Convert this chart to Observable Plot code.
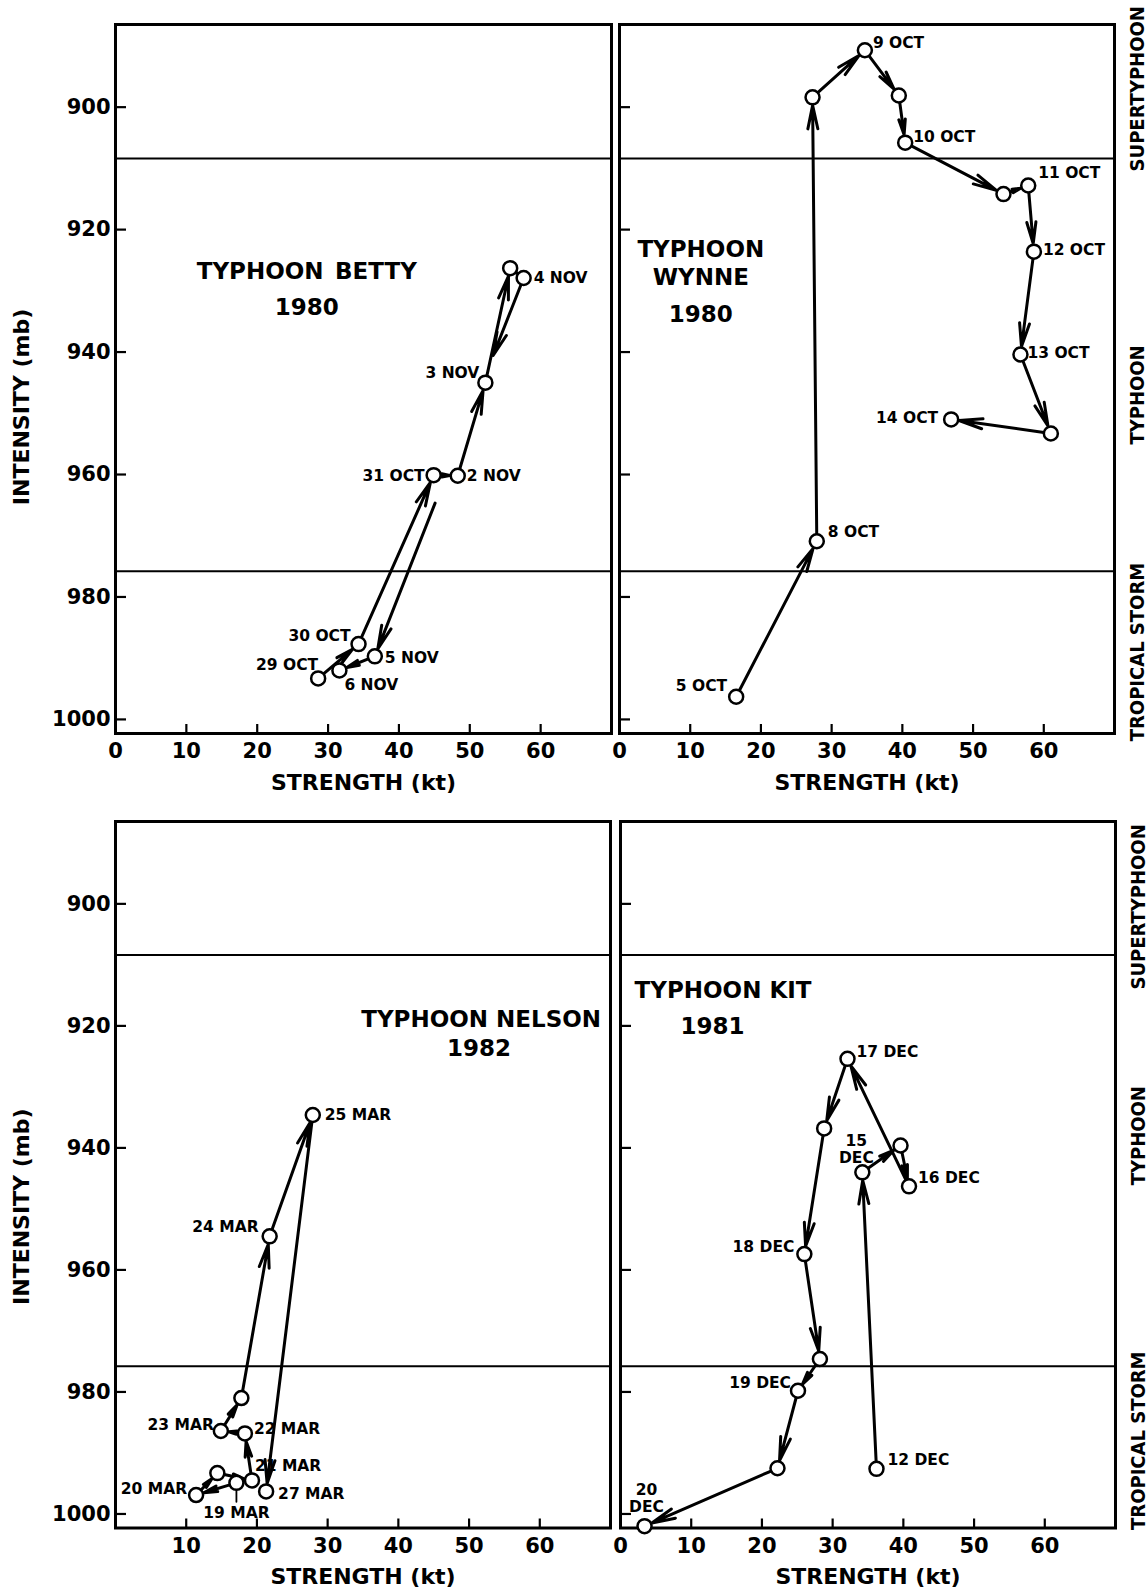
<!DOCTYPE html>
<html><head><meta charset="utf-8">
<script src="https://cdn.jsdelivr.net/npm/d3@7"></script>
<script src="https://cdn.jsdelivr.net/npm/@observablehq/plot@0.6"></script>
<style>
html,body{margin:0;padding:0;background:#fff;}
#chart{position:relative;width:1148px;height:1591px;background:#fff;}
.panel{position:absolute;}
.panel svg{overflow:visible;}
</style></head><body><div id="chart"></div>
<script>
// ---------------- data ----------------
const strengthTicks = [0, 10, 20, 30, 40, 50, 60];
const intensityTicks = [900, 920, 940, 960, 980, 1000];
const categoryBounds = [908.4, 975.8];
const categoryNames = ["SUPERTYPHOON", "TYPHOON", "TROPICAL STORM"];
const categoryLabelAtTop = [897, 947, 989];
const categoryLabelAtBottom = [900.5, 938, 988];

const bettyStrength  = [28.6, 34.3, 44.9, 48.3, 52.2, 55.7, 57.6, 36.6, 31.6];
const bettyIntensity = [993.3, 987.7, 960.1, 960.2, 945.0, 926.3, 927.9, 989.7, 992.0];
const bettyDates     = ["29 OCT", "30 OCT", "31 OCT", "2 NOV", "3 NOV", "", "4 NOV", "5 NOV", "6 NOV"];
const bettyTitle     = ["TYPHOON\u2002BETTY", "1980"];
const bettyTitleX    = [27.0, 27.0];
const bettyTitleY    = [926.9, 932.8];

const wynneStrength  = [16.5, 27.9, 27.3, 34.7, 39.5, 40.4, 54.3, 57.8, 58.6, 56.7, 61.0, 46.9];
const wynneIntensity = [996.3, 970.9, 898.4, 890.7, 898.1, 905.8, 914.2, 912.8, 923.6, 940.4, 953.3, 951.0];
const wynneDates     = ["5 OCT", "8 OCT", "", "9 OCT", "", "10 OCT", "", "11 OCT", "12 OCT", "13 OCT", "", "14 OCT"];
const wynneTitle     = ["TYPHOON", "WYNNE", "1980"];
const wynneTitleX    = [11.5, 11.5, 11.5];
const wynneTitleY    = [923.3, 927.9, 933.9];

const nelsonStrength  = [17.1, 11.4, 14.4, 19.3, 18.3, 14.9, 17.8, 21.8, 27.9, 21.3];
const nelsonIntensity = [994.9, 996.9, 993.3, 994.5, 986.8, 986.4, 981.0, 954.5, 934.6, 996.3];
const nelsonDates     = ["19 MAR", "20 MAR", "", "21 MAR", "22 MAR", "23 MAR", "", "24 MAR", "25 MAR", "27 MAR"];
const nelsonTitle     = ["TYPHOON NELSON", "1982"];
const nelsonTitleX    = [51.7, 51.4];
const nelsonTitleY    = [919.0, 923.7];

const kitStrength  = [36.2, 34.2, 39.6, 40.8, 32.1, 28.8, 26.0, 28.2, 25.1, 22.2, 3.4];
const kitIntensity = [992.6, 944.0, 939.6, 946.3, 925.4, 936.8, 957.4, 974.6, 979.8, 992.5, 1002.0];
const kitDates     = ["12 DEC", "15\nDEC", "", "16 DEC", "17 DEC", "", "18 DEC", "", "19 DEC", "", "20\nDEC"];
const kitTitle     = ["TYPHOON KIT", "1981"];
const kitTitleX    = [14.5, 13.0];
const kitTitleY    = [914.3, 920.2];

// ---------------- styling config (label placement in px) ----------------
const labelPlacement = {
  "29 OCT": ["end", 0, -14], "30 OCT": ["end", -8, -9], "31 OCT": ["end", -9, 0],
  "2 NOV": ["start", 9, 0], "3 NOV": ["end", -6, -10], "4 NOV": ["start", 10, 0],
  "5 NOV": ["start", 10, 1], "6 NOV": ["start", 5, 14],
  "9 OCT": ["start", 8, -8], "10 OCT": ["start", 8, -6], "11 OCT": ["start", 10, -13],
  "12 OCT": ["start", 9, -2], "13 OCT": ["start", 7, -2], "14 OCT": ["end", -13, -2],
  "8 OCT": ["start", 11, -10], "5 OCT": ["end", -9, -11],
  "25 MAR": ["start", 12, 0], "24 MAR": ["end", -11, -10], "23 MAR": ["end", -7, -6],
  "22 MAR": ["start", 9, -5], "21 MAR": ["start", 3, -15], "20 MAR": ["end", -9, -7],
  "19 MAR": ["middle", 0, 30], "27 MAR": ["start", 12, 2],
  "17 DEC": ["start", 9, -7], "16 DEC": ["start", 9, -9], "15\nDEC": ["middle", -6, -23],
  "18 DEC": ["end", -10, -8], "19 DEC": ["end", -7, -8], "12 DEC": ["start", 11, -9],
  "20\nDEC": ["middle", 2, -28]
};

const FONT = "DejaVu Sans";

function toPoints(s, i, d) { return s.map((x, k) => ({x, y: i[k], label: d[k]})); }
function toLines(t, xs, ys) { return t.map((text, k) => ({text, x: xs[k], y: ys[k]})); }

function panelPlot(cfg) {
  const points = cfg.points;
  const segs = [];
  for (let k = 0; k < points.length - 1; k++) {
    const a = points[k], b = points[k + 1];
    const br = (cfg.breaks || []).find(g => g.seg === k);
    if (br) {
      const lerp = t => ({x: a.x + (b.x - a.x) * t, y: a.y + (b.y - a.y) * t});
      const p0 = lerp(br.t0), p1 = lerp(br.t1);
      segs.push({kind: "toGap", x1: a.x, y1: a.y, x2: p0.x, y2: p0.y});
      segs.push({kind: "fromGap", x1: p1.x, y1: p1.y, x2: b.x, y2: b.y});
    } else segs.push({kind: "full", x1: a.x, y1: a.y, x2: b.x, y2: b.y});
  }
  const arrowStyle = {x1: "x1", y1: "y1", x2: "x2", y2: "y2", stroke: "black", strokeWidth: 3, headLength: 12, headAngle: 24};
  const marks = [
    Plot.ruleY(categoryBounds, {stroke: "black", strokeWidth: 2}),
    Plot.frame({stroke: "black", strokeWidth: 3}),
    Plot.axisX(strengthTicks.filter(t => t > 0), {tickSize: -9, tickFormat: () => "", label: null, strokeWidth: 2.2}),
    Plot.axisY(intensityTicks, {tickSize: -11, tickFormat: () => "", label: null, strokeWidth: 2.2}),
    Plot.axisX(cfg.xLabels, {tickSize: 0, tickPadding: 10, label: null, fontSize: 21, fontWeight: "bold", tickFormat: d => String(d)}),
    Plot.text(["STRENGTH (kt)"], {frameAnchor: "bottom", dy: 49, lineAnchor: "middle", fontSize: 22, fontWeight: "bold"}),
    Plot.arrow(segs.filter(s => s.kind === "full"), {...arrowStyle, insetStart: 7, insetEnd: 8}),
    Plot.arrow(segs.filter(s => s.kind === "toGap"), {...arrowStyle, insetStart: 7, insetEnd: 0}),
    Plot.arrow(segs.filter(s => s.kind === "fromGap"), {...arrowStyle, insetStart: 0, insetEnd: 8}),
    Plot.dot(points, {x: "x", y: "y", r: 7, fill: "white", stroke: "black", strokeWidth: 2.5}),
    Plot.text(cfg.title, {x: "x", y: "y", text: "text", fontSize: 23, fontWeight: "bold", textAnchor: "middle", lineAnchor: "middle"})
  ];
  for (const p of points.filter(p => p.label)) {
    const [anchor, dx, dy] = labelPlacement[p.label];
    marks.push(Plot.text([p], {x: "x", y: "y", text: "label", textAnchor: anchor, dx, dy,
      lineAnchor: "middle", lineHeight: 1.1, fontSize: 15.5, fontWeight: "bold"}));
  }
  if (cfg.leader) {
    try {
      marks.push(Plot.vector(points.filter(p => p.label === cfg.leader), {x: "x", y: "y", length: 11, rotate: 180,
        anchor: "start", dy: 8, strokeWidth: 1.8, stroke: "black",
        shape: {draw(ctx, l) { ctx.moveTo(0, 0); ctx.lineTo(0, -l); }}}));
    } catch (e) {}
  }
  if (cfg.leftLabels) {
    marks.push(Plot.axisY(intensityTicks, {tickSize: 0, tickPadding: 5, label: null, fontSize: 21, fontWeight: "bold", tickFormat: d => String(d)}));
    marks.push(Plot.text(["INTENSITY (mb)"], {frameAnchor: "left", dx: -94, dy: cfg.yLabelDy, rotate: -90,
      textAnchor: "middle", lineAnchor: "middle", fontSize: 22, fontWeight: "bold"}));
  }
  if (cfg.bandAt) {
    const bands = categoryNames.map((label, k) => ({label, y: cfg.bandAt[k]}));
    marks.push(Plot.text(bands, {y: "y", text: "label", frameAnchor: "right", dx: 23, rotate: -90,
      textAnchor: "middle", lineAnchor: "middle", fontSize: 20, fontWeight: "bold",
      fontFamily: "DejaVu Sans Condensed, DejaVu Sans"}));
  }
  return Plot.plot({
    width: cfg.width, height: cfg.height,
    marginLeft: cfg.mL, marginRight: cfg.mR, marginTop: cfg.mT, marginBottom: cfg.mB,
    x: {domain: [0, 70]},
    y: {domain: [886.5, 1002.3], reverse: true},
    style: {fontFamily: FONT, fontWeight: "bold", color: "black", background: "transparent", overflow: "visible"},
    marks
  });
}

const panels = [
  {left: 0, top: 0, width: 614, height: 800, mL: 115, mR: 3, mT: 24, mB: 67,
   points: toPoints(bettyStrength, bettyIntensity, bettyDates),
   breaks: [{seg: 6, t0: 0.205, t1: 0.595}],
   title: toLines(bettyTitle, bettyTitleX, bettyTitleY),
   xLabels: strengthTicks, leftLabels: true, yLabelDy: 28},
  {left: 614, top: 0, width: 534, height: 800, mL: 5, mR: 34, mT: 24, mB: 67,
   points: toPoints(wynneStrength, wynneIntensity, wynneDates),
   title: toLines(wynneTitle, wynneTitleX, wynneTitleY),
   xLabels: strengthTicks, bandAt: categoryLabelAtTop},
  {left: 0, top: 800, width: 614, height: 791, mL: 115, mR: 4, mT: 21, mB: 63.5,
   points: toPoints(nelsonStrength, nelsonIntensity, nelsonDates),
   title: toLines(nelsonTitle, nelsonTitleX, nelsonTitleY),
   xLabels: strengthTicks.filter(t => t > 0), leftLabels: true, yLabelDy: 32, leader: "19 MAR"},
  {left: 614, top: 800, width: 534, height: 791, mL: 6, mR: 33, mT: 21, mB: 63.5,
   points: toPoints(kitStrength, kitIntensity, kitDates),
   title: toLines(kitTitle, kitTitleX, kitTitleY),
   xLabels: strengthTicks, bandAt: categoryLabelAtBottom}
];

const chart = document.getElementById("chart");
for (const cfg of panels) {
  const div = document.createElement("div");
  div.className = "panel";
  div.style.left = cfg.left + "px";
  div.style.top = cfg.top + "px";
  div.style.width = cfg.width + "px";
  div.style.height = cfg.height + "px";
  div.appendChild(panelPlot(cfg));
  chart.appendChild(div);
}
</script></body></html>
